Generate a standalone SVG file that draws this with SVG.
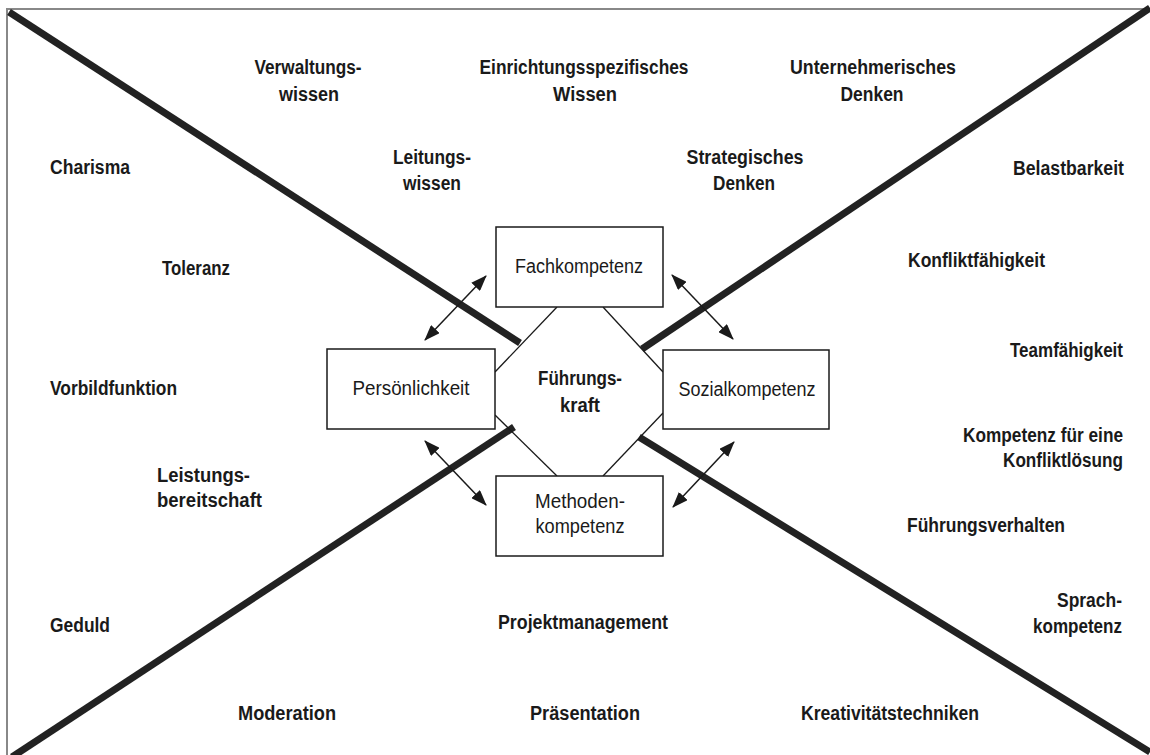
<svg xmlns="http://www.w3.org/2000/svg" width="1150" height="755" viewBox="0 0 1150 755">
<defs>
<style>
.t{font-family:"Liberation Sans Narrow","Liberation Sans",Arial,sans-serif;font-size:20px;fill:#1a1a1a;font-weight:bold}
.b{font-family:"Liberation Sans Narrow","Liberation Sans",Arial,sans-serif;font-size:20px;fill:#1a1a1a}
.m{text-anchor:middle}
.e{text-anchor:end}
.box{fill:#fff;stroke:#1a1a1a;stroke-width:1.5}
.thick{stroke:#222;stroke-width:7;stroke-linecap:butt}
.oct{stroke:#1a1a1a;stroke-width:1.3}
.arr{stroke:#1a1a1a;stroke-width:1.5;marker-start:url(#ah);marker-end:url(#ah)}
</style>
<marker id="ah" viewBox="0 0 16 12" refX="15" refY="6" markerWidth="16" markerHeight="12" markerUnits="userSpaceOnUse" orient="auto-start-reverse">
<path d="M0,0 L16,6 L0,12 Z" fill="#1a1a1a"/>
</marker>
</defs>
<rect width="1150" height="755" fill="#fff"/>
<path d="M7,755 V9 H1150" fill="none" stroke="#888" stroke-width="2"/>
<g id="connectors">
<line class="thick" x1="9" y1="12" x2="520" y2="343"/>
<line class="thick" x1="1150" y1="8" x2="642" y2="349"/>
<line class="thick" x1="12" y1="757" x2="514" y2="427"/>
<line class="thick" x1="639" y1="437" x2="1150" y2="752"/>
<line class="oct" x1="557" y1="307" x2="495" y2="372"/>
<line class="oct" x1="603" y1="307" x2="663" y2="372"/>
<line class="oct" x1="495" y1="415" x2="557" y2="476"/>
<line class="oct" x1="663" y1="413" x2="603" y2="476"/>
<line class="arr" x1="486" y1="276" x2="425" y2="340"/>
<line class="arr" x1="672" y1="275" x2="733" y2="339"/>
<line class="arr" x1="425" y1="441" x2="486" y2="505"/>
<line class="arr" x1="734" y1="442" x2="673" y2="507"/>
</g>
<g id="fuehrungskraft"><text class="t m" x="580" y="385" textLength="84" lengthAdjust="spacingAndGlyphs">Führungs-</text><text class="t m" x="580" y="412" textLength="40" lengthAdjust="spacingAndGlyphs">kraft</text></g>
<g id="fachkompetenz"><rect class="box" x="496" y="227" width="167" height="80"/><text class="b m" x="579" y="273" textLength="128" lengthAdjust="spacingAndGlyphs">Fachkompetenz</text></g>
<g id="persoenlichkeit"><rect class="box" x="327" y="349" width="168" height="80"/><text class="b m" x="411" y="395" textLength="117" lengthAdjust="spacingAndGlyphs">Persönlichkeit</text></g>
<g id="sozialkompetenz"><rect class="box" x="663" y="350" width="166" height="79"/><text class="b m" x="747" y="396" textLength="137" lengthAdjust="spacingAndGlyphs">Sozialkompetenz</text></g>
<g id="methodenkompetenz"><rect class="box" x="496" y="476" width="167" height="80"/><text class="b m" x="580" y="508" textLength="90" lengthAdjust="spacingAndGlyphs">Methoden-</text><text class="b m" x="580" y="533" textLength="89" lengthAdjust="spacingAndGlyphs">kompetenz</text></g>
<g id="labels">
<text class="t m" x="308" y="74" textLength="107" lengthAdjust="spacingAndGlyphs">Verwaltungs-</text><text class="t m" x="309" y="101" textLength="60" lengthAdjust="spacingAndGlyphs">wissen</text>
<text class="t m" x="584" y="74" textLength="209" lengthAdjust="spacingAndGlyphs">Einrichtungsspezifisches</text><text class="t m" x="585" y="101" textLength="64" lengthAdjust="spacingAndGlyphs">Wissen</text>
<text class="t m" x="873" y="74" textLength="166" lengthAdjust="spacingAndGlyphs">Unternehmerisches</text><text class="t m" x="872" y="101" textLength="63" lengthAdjust="spacingAndGlyphs">Denken</text>
<text class="t m" x="432" y="164" textLength="78" lengthAdjust="spacingAndGlyphs">Leitungs-</text><text class="t m" x="432" y="190" textLength="58" lengthAdjust="spacingAndGlyphs">wissen</text>
<text class="t m" x="745" y="164" textLength="117" lengthAdjust="spacingAndGlyphs">Strategisches</text><text class="t m" x="744" y="190" textLength="62" lengthAdjust="spacingAndGlyphs">Denken</text>
<text class="t" x="50" y="174" textLength="80" lengthAdjust="spacingAndGlyphs">Charisma</text>
<text class="t" x="162" y="275" textLength="68" lengthAdjust="spacingAndGlyphs">Toleranz</text>
<text class="t" x="50" y="395" textLength="127" lengthAdjust="spacingAndGlyphs">Vorbildfunktion</text>
<text class="t" x="157" y="482" textLength="93" lengthAdjust="spacingAndGlyphs">Leistungs-</text><text class="t" x="157" y="507" textLength="105" lengthAdjust="spacingAndGlyphs">bereitschaft</text>
<text class="t" x="50" y="632" textLength="60" lengthAdjust="spacingAndGlyphs">Geduld</text>
<text class="t e" x="1124" y="175" textLength="111" lengthAdjust="spacingAndGlyphs">Belastbarkeit</text>
<text class="t" x="908" y="267" textLength="137" lengthAdjust="spacingAndGlyphs">Konfliktfähigkeit</text>
<text class="t e" x="1123" y="357" textLength="113" lengthAdjust="spacingAndGlyphs">Teamfähigkeit</text>
<text class="t e" x="1123" y="442" textLength="160" lengthAdjust="spacingAndGlyphs">Kompetenz für eine</text><text class="t e" x="1123" y="467" textLength="120" lengthAdjust="spacingAndGlyphs">Konfliktlösung</text>
<text class="t" x="907" y="532" textLength="158" lengthAdjust="spacingAndGlyphs">Führungsverhalten</text>
<text class="t e" x="1122" y="607" textLength="65" lengthAdjust="spacingAndGlyphs">Sprach-</text><text class="t e" x="1122" y="633" textLength="89" lengthAdjust="spacingAndGlyphs">kompetenz</text>
<text class="t m" x="583" y="629" textLength="170" lengthAdjust="spacingAndGlyphs">Projektmanagement</text>
<text class="t m" x="287" y="720" textLength="98" lengthAdjust="spacingAndGlyphs">Moderation</text>
<text class="t m" x="585" y="720" textLength="110" lengthAdjust="spacingAndGlyphs">Präsentation</text>
<text class="t m" x="890" y="720" textLength="178" lengthAdjust="spacingAndGlyphs">Kreativitätstechniken</text>
</g>
</svg>
